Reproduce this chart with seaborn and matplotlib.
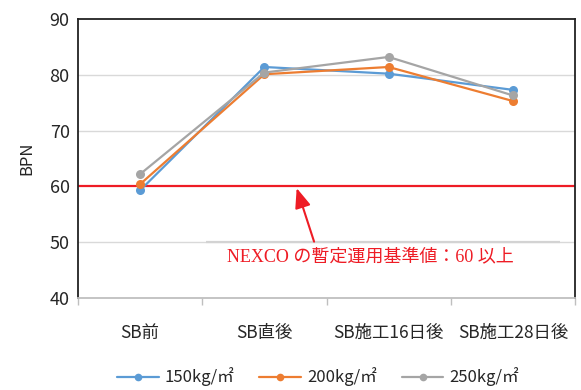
import matplotlib
matplotlib.use("Agg")
import matplotlib.pyplot as plt
import seaborn as sns
import pandas as pd
import numpy as np

# Survey periods and BPN readings per spreading rate
stages = ["SB前", "SB直後", "SB施工16日後", "SB施工28日後"]
series_names = ["150kg/㎡", "200kg/㎡", "250kg/㎡"]
bpn_150 = [59.3, 81.4, 80.2, 77.3]
bpn_200 = [60.4, 80.1, 81.4, 75.3]
bpn_250 = [62.2, 80.4, 83.2, 76.3]
threshold = 60
threshold_label = "NEXCO の暫定運用基準値：60 以上"

colors = ["#5B9BD5", "#ED7D31", "#A5A5A5"]

rows = []
for name, vals in zip(series_names, [bpn_150, bpn_200, bpn_250]):
    for i, v in enumerate(vals):
        rows.append({"pos": i, "BPN": v, "series": name})
df = pd.DataFrame(rows)

sns.set_theme(style="white")
plt.rcParams["font.family"] = ["Noto Sans CJK JP", "DejaVu Sans"]

fig = plt.figure(figsize=(5.81, 3.90), dpi=100)
ax = fig.add_axes([78 / 581, 1 - 298 / 390, (575 - 78) / 581, (298 - 19) / 390])

# light horizontal gridlines
for g in [50, 70, 80]:
    ax.axhline(g, color="#D9D9D9", lw=1.0, zorder=0)
# top edge of the note box, sitting on the 50 gridline
ax.plot([0.53, 3.38], [50, 50], color="#D3D3D3", lw=1.6, zorder=0.5, solid_capstyle="butt")

sns.lineplot(data=df, x="pos", y="BPN", hue="series", hue_order=series_names,
             palette=colors, marker="o", markersize=6.5, markeredgewidth=0,
             linewidth=1.6, ax=ax, legend=True, zorder=3)

# threshold line
ax.axhline(threshold, color="#EE1C25", lw=1.6, zorder=2)

ax.set_xlim(-0.5, 3.5)
ax.set_ylim(40, 90)
ax.set_yticks([40, 50, 60, 70, 80, 90])
ax.set_xticks(range(len(stages)))
ax.set_xticklabels(stages, fontsize=12.5, color="#262626")
ax.set_xticks([-0.5, 0.5, 1.5, 2.5, 3.5], minor=True)
ax.tick_params(axis="x", which="major", length=0, pad=19)
ax.tick_params(axis="x", which="minor", length=5, color="#BFBFBF", width=1, direction="out")
ax.tick_params(axis="x", which="both", bottom=True)
ax.tick_params(axis="y", length=0, labelsize=13, labelcolor="#262626", pad=6)
ax.set_xlabel("")
ax.set_ylabel("BPN", fontsize=12, color="#262626", labelpad=10)

for side in ["left", "top", "right"]:
    ax.spines[side].set_color("#222222")
    ax.spines[side].set_linewidth(1.3)
ax.spines["bottom"].set_color("#BFBFBF")
ax.spines["bottom"].set_linewidth(1.3)

# annotation with arrow to the threshold line
ax.annotate("", xy=(1.26, 59.7), xytext=(1.40, 50.1),
            arrowprops=dict(arrowstyle="-|>,head_length=1.0,head_width=0.4",
                            color="#EE1C25", lw=1.5, shrinkA=0, shrinkB=0),
            zorder=4)
ax.text(1.85, 47.3, threshold_label, color="#EE1C25", fontsize=13,
        family=["Liberation Serif", "Noto Sans CJK JP"], ha="center", va="center",
        zorder=4)

# legend below the chart
handles, labels = ax.get_legend_handles_labels()
ax.get_legend().remove()
for h in handles:
    h.set_markersize(5.5)
fig.legend(handles, labels, loc="center", bbox_to_anchor=(318 / 581, 1 - 377 / 390),
           ncol=3, frameon=False, fontsize=12, handlelength=2.5, columnspacing=1.5,
           handletextpad=0.35, labelcolor="#262626")

fig.savefig("out.png", dpi=100)
